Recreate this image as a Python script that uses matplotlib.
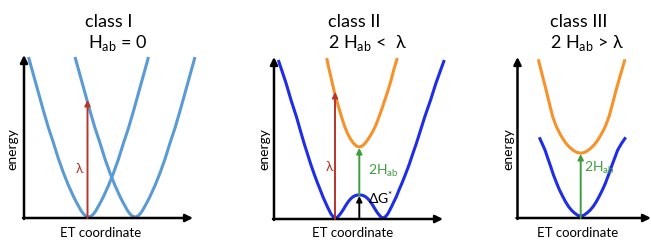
import matplotlib
matplotlib.use("Agg")
import matplotlib.pyplot as plt

plt.rcParams['font.family'] = ['Lato', 'DejaVu Sans']
plt.rcParams['mathtext.fontset'] = 'custom'
plt.rcParams['mathtext.rm'] = 'Lato'

# ---------------- data (x: ET coordinate, e: energy; arbitrary units) ----------------
# class I: two uncoupled diabatic wells
c1_left_x = [4.5, 9.5, 14.5, 19.5, 24.5, 29.5, 34.5, 39.5, 44.5, 47, 49.5, 52, 54.5, 57, 59.5, 62, 64.5,
             67, 69.5, 72, 74.5, 77, 79.5, 82, 84.5, 89.5, 94.5, 99.5, 104.5, 109.5, 114.5, 119.5, 124.5]
c1_left_e = [161, 143, 125, 107, 90, 75, 59, 45, 32.5, 27, 21.5, 16.5, 12, 7.5, 4, 1.8, 1,
             1.8, 4, 7.5, 12, 16.5, 21.5, 27, 32.5, 45, 59, 75, 90, 107, 125, 143, 161]
c1_right_x = [51, 56, 61, 66, 71, 76, 81, 86, 91, 93.5, 96, 98.5, 101, 103.5, 106, 108.5, 111,
              113.5, 116, 118.5, 121, 123.5, 126, 128.5, 131, 136, 141, 146, 151, 156, 161, 166, 171]
c1_right_e = [161, 143, 125, 107, 90, 75, 59, 45, 32.5, 27, 21.5, 16.5, 12, 7.5, 4, 1.8, 1,
              1.8, 4, 7.5, 12, 16.5, 21.5, 27, 32.5, 45, 59, 75, 90, 107, 125, 143, 161]
c1_lambda_x = 63.5
c1_lambda_top = 118

# class II: lower (double well) and upper adiabatic surfaces
c2_low_x = [4.3, 8, 12, 17, 22.5, 26.5, 30, 33.5, 37, 40.5, 43.5, 46.5, 49, 51.5, 53.5, 55.5, 57, 59, 61,
            63, 65, 67, 69, 71, 73, 75, 77, 79, 81, 83, 85.3,
            87.6, 89.6, 91.6, 93.6, 95.6, 97.6, 99.6, 101.6, 103.6, 105.6, 107.6,
            109.6, 111.7, 113.7, 115.3, 117.4, 119.5, 122.2, 124.8, 128, 131.2, 135, 138.7, 142.5,
            146.3, 150.7, 156.6, 162, 166.3, 170.3]
c2_low_e = [159, 148, 136, 119, 102, 88, 76, 65, 54, 44, 36, 28.5, 22, 16.5, 12, 8, 5, 2.5, 1.2,
            1.5, 3.5, 6, 9, 12.3, 15.5, 18.3, 20.5, 22.2, 23.3, 23.9, 24.1,
            23.9, 23.3, 22.2, 20.5, 18.3, 15.5, 12.3, 9, 6, 3.5, 1.5,
            1.2, 2.5, 5, 8, 12, 16.5, 22, 28.5, 36, 44, 54, 65, 76,
            88, 102, 119, 136, 148, 159]
c2_up_x = [52.7, 55, 57.7, 60, 62.5, 65, 67.7, 70.5, 73.3, 76.3, 79.3, 82.3, 85.3,
           88.3, 91.3, 94.5, 98, 101.5, 104.8, 108, 111, 114, 117, 120, 123.3]
c2_up_e = [161, 150, 138.5, 128.5, 119.5, 110.5, 101.5, 93, 86, 80.3, 76, 73, 72,
           73, 76, 80.3, 86, 93, 101.5, 110.5, 119.5, 128.5, 138.5, 150, 161]
c2_lambda_x = 61
c2_lambda_top = 127
c2_cross_x = 85.3
c2_barrier_e = 24
c2_upper_min_e = 71

# class III: single-well lower and upper surfaces
c3_low_x = [21.8, 24.6, 27.5, 30.2, 33, 36, 39.2, 42, 45, 48, 51, 54, 57, 60, 63.2,
            66.4, 69.5, 72.6, 75.7, 78.8, 81.9, 84.9, 87.9, 91, 94.2, 97.2, 100.2, 104, 108.2]
c3_low_e = [80.7, 74.5, 68, 60, 52, 43, 34.7, 28, 22, 16.3, 11.5, 7.8, 5, 2.8, 1.8,
            2.8, 5, 7.8, 11.5, 16.3, 22, 28, 34.7, 43, 52, 60, 68, 74.5, 80.7]
c3_up_x = [20.8, 24.5, 28, 31.5, 35.2, 38.6, 42, 45.5, 49, 52.5, 56, 59.6, 63.2,
           66.8, 70.4, 73.9, 77.4, 81, 84.5, 88, 91.5, 95.5, 99.3, 103.2, 107.5]
c3_up_e = [158.7, 144, 130.5, 116, 101.3, 92, 85, 79, 74, 70.3, 67.5, 65.5, 64.8,
           65.5, 67.5, 70.3, 74, 79, 85, 92, 101.3, 116, 130.5, 144, 158.7]
c3_mid_x = 63.2
c3_upper_min_e = 64

titles = ["class I", "class II", "class III"]
subtitles = [r"H$_{\mathregular{ab}}$ = 0", r"2 H$_{\mathregular{ab}}$ <  λ", r"2 H$_{\mathregular{ab}}$ > λ"]

# ---------------- style ----------------
LIGHT_BLUE = '#5B9BD5'
BLUE = '#1E2EE8'
ORANGE = '#F7922B'
RED = '#B8352B'
GREEN = '#3E9E3E'

W, H = 651, 240
fig = plt.figure(figsize=(W / 100, H / 100), dpi=100)


def make_axes(ox, oy, xend, ytop):
    ax = fig.add_axes([ox / W, (H - oy) / H, (xend - ox) / W, (oy - ytop) / H])
    ax.set_xlim(0, xend - ox)
    ax.set_ylim(0, oy - ytop)
    ax.axis('off')
    arrow = dict(arrowstyle='-|>', color='black', lw=1.8, mutation_scale=11,
                 shrinkA=0, shrinkB=0)
    ax.annotate('', xy=(xend - ox, 0), xytext=(-1, 0), arrowprops=arrow, annotation_clip=False)
    ax.annotate('', xy=(0, oy - ytop), xytext=(0, -1), arrowprops=arrow, annotation_clip=False)
    return ax


def varrow(ax, x, y0, y1, color):
    ax.annotate('', xy=(x, y1), xytext=(x, y0),
                arrowprops=dict(arrowstyle='-|>', color=color, lw=1.4, mutation_scale=8,
                                shrinkA=0, shrinkB=0), annotation_clip=False)


line_kw = dict(lw=2.2, clip_on=False, solid_capstyle='butt', solid_joinstyle='round')

# panel 1
ax1 = make_axes(24, 218, 193, 55)
ax1.plot(c1_left_x, c1_left_e, color=LIGHT_BLUE, **line_kw)
ax1.plot(c1_right_x, c1_right_e, color=LIGHT_BLUE, **line_kw)
varrow(ax1, c1_lambda_x, 0, c1_lambda_top, RED)
ax1.text(55.3, 49, 'λ', color=RED, fontsize=10, ha='center', va='center')

# panel 2
ax2 = make_axes(274, 219, 443, 57)
ax2.plot(c2_low_x, c2_low_e, color=BLUE, **line_kw)
ax2.plot(c2_up_x, c2_up_e, color=ORANGE, **line_kw)
varrow(ax2, c2_lambda_x, 0, c2_lambda_top, RED)
varrow(ax2, c2_cross_x, c2_barrier_e, c2_upper_min_e, GREEN)
varrow(ax2, c2_cross_x, 0, c2_barrier_e - 1, 'black')
ax2.text(55.3, 52, 'λ', color=RED, fontsize=10, ha='center', va='center')
ax2.text(109, 48, r'2H$_{\mathregular{ab}}$', color=GREEN, fontsize=10, ha='center', va='center')
ax2.text(107, 21, 'ΔG$^{*}$', color='black', fontsize=10, ha='center', va='center')

# panel 3
ax3 = make_axes(517.5, 218, 651, 57)
ax3.plot(c3_low_x, c3_low_e, color=BLUE, **line_kw)
ax3.plot(c3_up_x, c3_up_e, color=ORANGE, **line_kw)
varrow(ax3, c3_mid_x, 0, c3_upper_min_e, GREEN)
ax3.text(82.2, 50, r'2H$_{\mathregular{ab}}$', color=GREEN, fontsize=10, ha='center', va='center')

# texts
for x, t in zip([85, 328.3, 550], titles):
    fig.text(x / W, 1 - 22 / H, t, fontsize=13, ha='left', va='center')
for x, s in zip([88, 328.3, 550], subtitles):
    fig.text(x / W, 1 - 43 / H, s, fontsize=13, ha='left', va='center')
for cx in [101, 352.5, 577.5]:
    fig.text(cx / W, 1 - 233 / H, 'ET coordinate', fontsize=9.5, ha='center', va='center')
for cx in [12.5, 264, 508]:
    fig.text(cx / W, 1 - 149 / H, 'energy', fontsize=10, ha='center', va='center', rotation=90)

fig.savefig('out.png', dpi=100)
